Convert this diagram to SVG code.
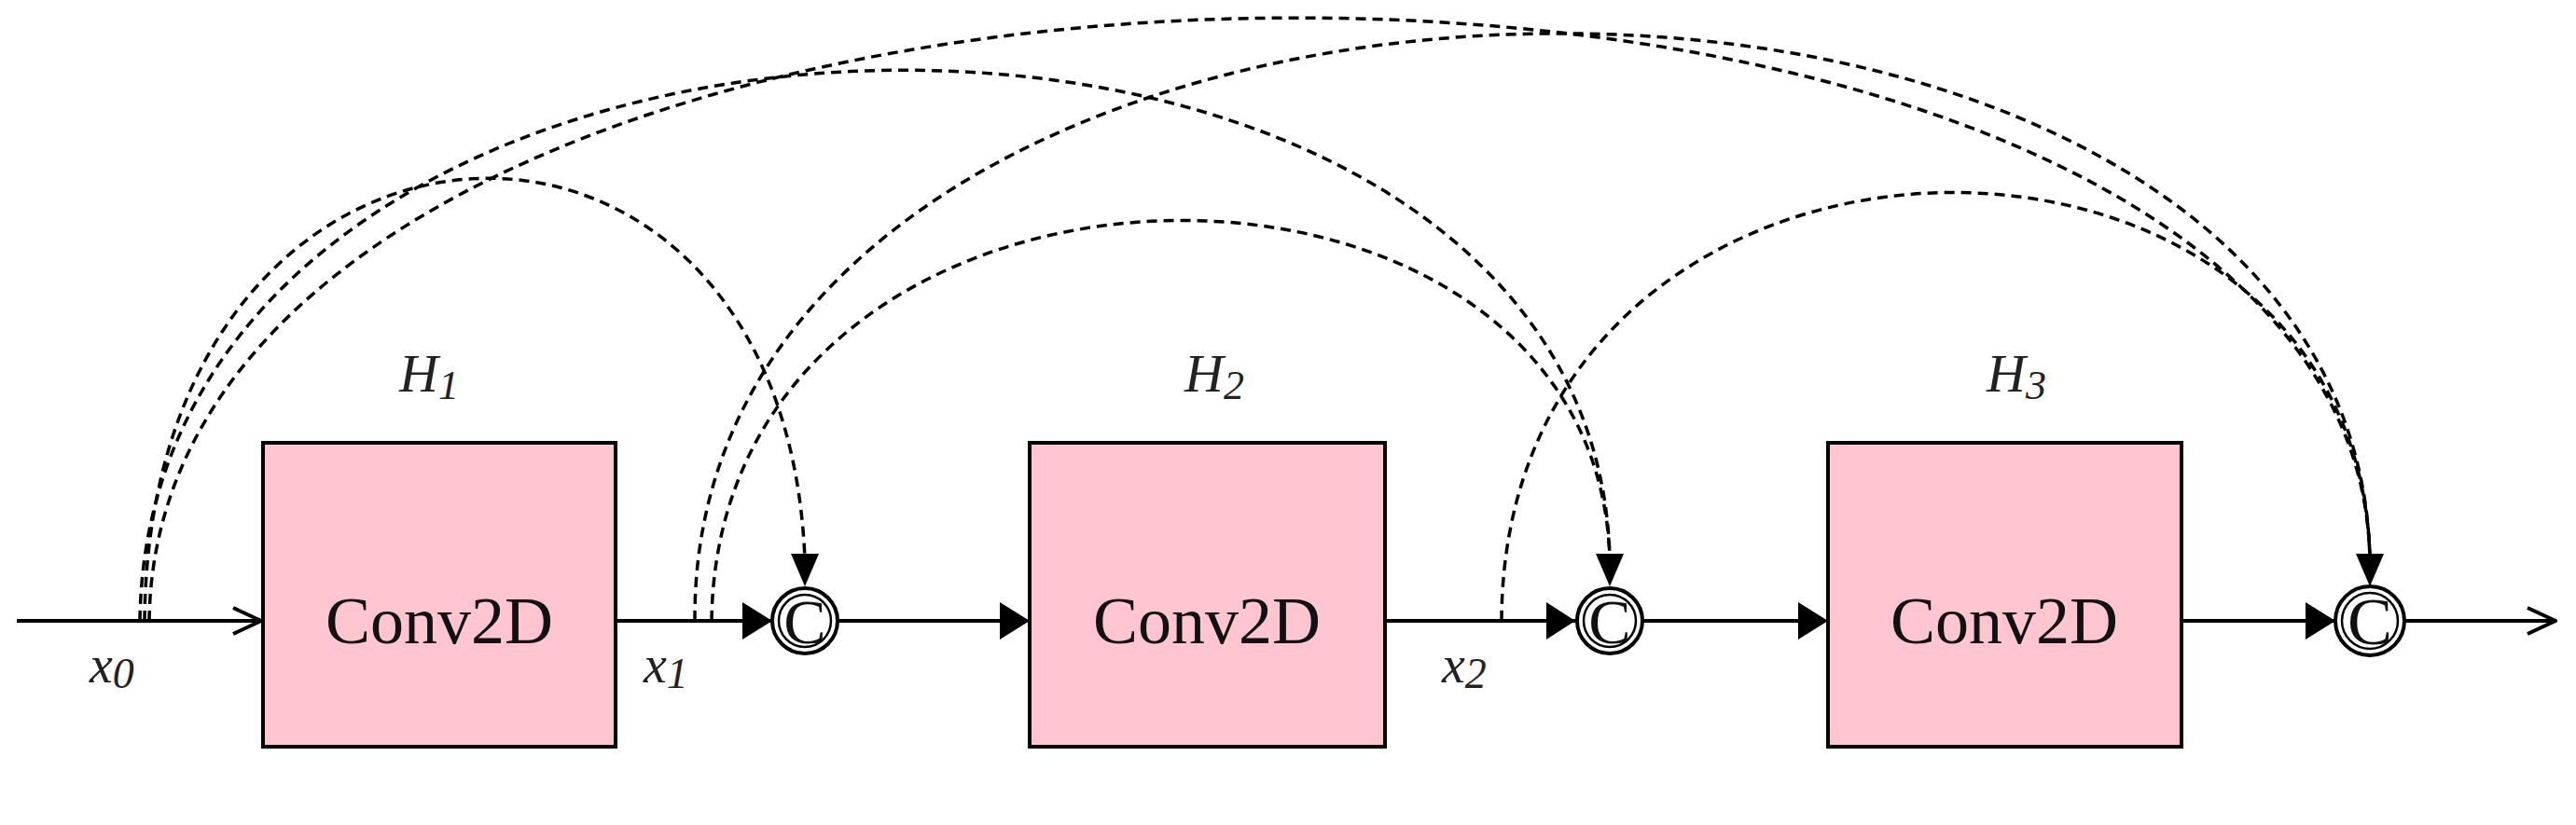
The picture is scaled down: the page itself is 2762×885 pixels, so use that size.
<svg xmlns="http://www.w3.org/2000/svg" width="2762" height="885" viewBox="0 0 2762 885">
<style>
.box{fill:#ffc5d0;stroke:#000;stroke-width:4}
.ln{stroke:#000;stroke-width:4;fill:none}
.d{stroke:#000;stroke-width:3.5;fill:none;stroke-dasharray:11 7}
.t{font-family:"Liberation Serif",serif;fill:#111}
.lab{font-family:"Liberation Serif",serif;font-style:italic;fill:#222}
.cw{fill:#fff;stroke:#000;stroke-width:4}
.ci{fill:none;stroke:#000;stroke-width:2.5}
</style>
<defs>
<marker id="o" markerWidth="40" markerHeight="40" refX="38" refY="20" orient="auto" markerUnits="userSpaceOnUse">
<path d="M8,6 L38,20 L8,34" fill="none" stroke="#000" stroke-width="4"/>
</marker>
</defs>
<g id="connectors">
<line class="ln" x1="18" y1="666" x2="280" y2="666" marker-end="url(#o)"/>
<line class="ln" x1="660" y1="666" x2="826" y2="666"/>
<path d="M796,646 L828,666 L796,686 z"/>
<line class="ln" x1="898" y1="666" x2="1080" y2="666"/>
<path d="M1072,646 L1104,666 L1072,686 z"/>
<line class="ln" x1="1485" y1="666" x2="1690" y2="666"/>
<path d="M1658,646 L1689,666 L1658,686 z"/>
<line class="ln" x1="1761" y1="666" x2="1935" y2="666"/>
<path d="M1928,646 L1960,666 L1928,686 z"/>
<line class="ln" x1="2339" y1="666" x2="2505" y2="666"/>
<path d="M2472,646 L2504,666 L2472,686 z"/>
<line class="ln" x1="2578" y1="666" x2="2740" y2="666" marker-end="url(#o)"/>
<path class="d" d="M155,666 C160,60 840,30 863,600"/>
<path class="d" d="M150,666 C160,-100 1710,-120 1726,600"/>
<path class="d" d="M160,666 C170,-180 2528,-190 2541,600"/>
<path class="d" d="M745,666 C740,-150 2525,-175 2541,600"/>
<path class="d" d="M763,666 C770,110 1712,100 1726,600"/>
<path class="d" d="M1610,666 C1612,70 2528,60 2541,600"/>
<path d="M848,594 L878,594 L863,629 z"/>
<path d="M1711,594 L1741,594 L1726,629 z"/>
<path d="M2526,594 L2556,594 L2541,629 z"/>
</g>
<g id="box1"><rect class="box" x="282" y="475" width="378" height="326"/><text class="t" x="471" y="690" font-size="72" text-anchor="middle">Conv2D</text></g>
<g id="box2"><rect class="box" x="1104" y="475" width="381" height="326"/><text class="t" x="1294" y="690" font-size="72" text-anchor="middle">Conv2D</text></g>
<g id="box3"><rect class="box" x="1960" y="475" width="379" height="326"/><text class="t" x="2149" y="690" font-size="72" text-anchor="middle">Conv2D</text></g>
<g id="c1"><circle class="cw" cx="863" cy="666" r="35"/><circle class="ci" cx="863" cy="666" r="28"/><text class="t" x="863" y="690" font-size="68" text-anchor="middle">C</text></g>
<g id="c2"><circle class="cw" cx="1726" cy="666" r="35"/><circle class="ci" cx="1726" cy="666" r="28"/><text class="t" x="1726" y="690" font-size="68" text-anchor="middle">C</text></g>
<g id="c3"><circle class="cw" cx="2541" cy="666" r="37"/><circle class="ci" cx="2541" cy="666" r="30"/><text class="t" x="2541" y="691" font-size="72" text-anchor="middle">C</text></g>
<g id="labels">
<text class="lab" x="428" y="420" font-size="58">H<tspan font-size="44" dy="8">1</tspan></text>
<text class="lab" x="1270" y="420" font-size="58">H<tspan font-size="44" dy="8">2</tspan></text>
<text class="lab" x="2130" y="420" font-size="58">H<tspan font-size="44" dy="8">3</tspan></text>
<text class="lab" x="96" y="732" font-size="56">x<tspan font-size="46" dy="6">0</tspan></text>
<text class="lab" x="690" y="732" font-size="56">x<tspan font-size="46" dy="6">1</tspan></text>
<text class="lab" x="1546" y="732" font-size="56">x<tspan font-size="46" dy="6">2</tspan></text>
</g>
</svg>
